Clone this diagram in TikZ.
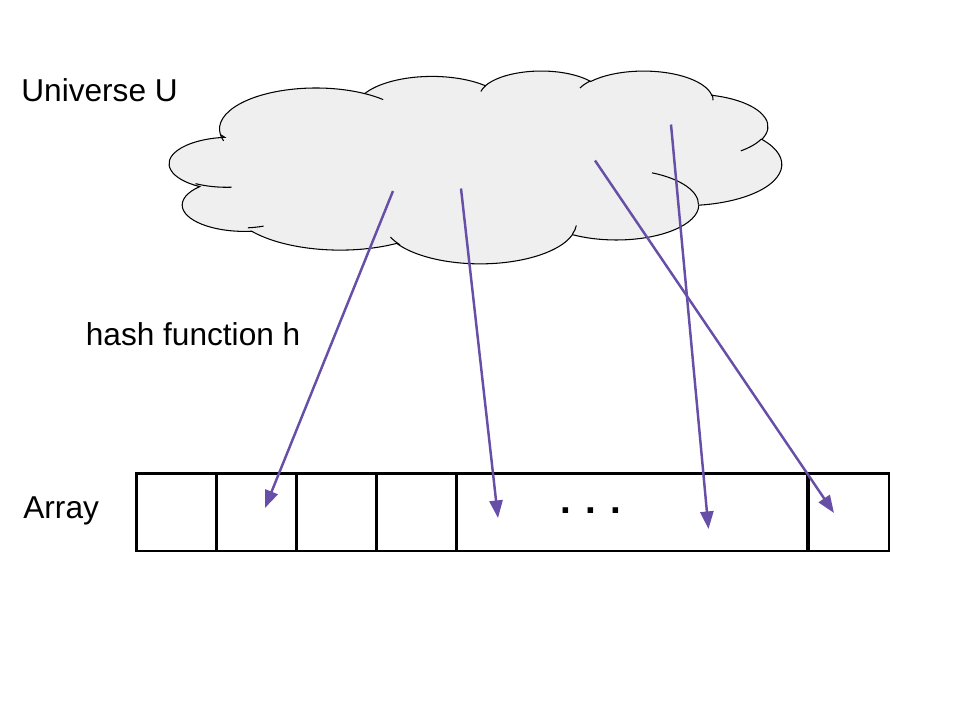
\documentclass[tikz,border=0pt]{standalone}
\usepackage{fontspec}
\setmainfont{Liberation Sans}
\usepackage{tikz}
\usetikzlibrary{arrows.meta}
\usepackage{xcolor}
\definecolor{cloudgray}{RGB}{239,239,239}
\definecolor{hashpurple}{RGB}{103,78,167}
% one bump of the cloud: x radius, y radius, start angle, sweep (angles as seen from the centre)
\newcommand{\lobe}[4]{arc[x radius=#1, y radius=#2,
  start angle={atan2((#1)*sin(#3),(#2)*cos(#3))},
  delta angle={mod(atan2((#1)*sin((#3)+(#4)),(#2)*cos((#3)+(#4)))-atan2((#1)*sin(#3),(#2)*cos(#3))+720,360)}]}

\begin{document}
\begin{tikzpicture}[x=0.02cm, y=-0.02cm,
    lbl/.style={anchor=base west, inner sep=0pt, font=\fontsize{18}{22}\selectfont},
    cell/.style={draw, line width=1.7pt, inner sep=0pt, minimum height=1.56cm},
    hash/.style={draw=hashpurple, line width=1.4pt, -{Triangle[length=10pt, width=7.5pt]}}]
        \useasboundingbox (0, 0) rectangle (960, 720);
        % Draw the cloud
        \begin{scope}[shift={(164.7, 70.4)}, x=0.028565cm, y=-0.0089306cm, line width=0.6pt]
            \draw [fill=cloudgray] (39.00, 143.70) \lobe{67.53}{91.90}{-190.487}{123.781}
                \lobe{53.33}{72.67}{-144.102}{89.945} \lobe{43.65}{59.45}{-145.808}{99.723}
                \lobe{48.57}{65.95}{-130.986}{117.242} \lobe{53.33}{72.73}{-78.709}{109.027}
                \lobe{67.75}{92.20}{-46.267}{130.269} \lobe{57.85}{78.67}{0.625}{114.033}
                \lobe{67.52}{92.15}{22.464}{119.150} \lobe{77.20}{105.43}{66.243}{68.197}
                \lobe{43.60}{59.18}{-274.942}{147.722} \lobe{43.45}{59.45}{-246.829}{152.519} -- cycle;
            % inner ends of the bumps
            \draw (46.93, 261.77) \lobe{43.45}{59.45}{86.742}{26.430}
                (69.28, 348.99) \lobe{43.60}{59.18}{73.610}{11.447}
                (164.78, 390.90) \lobe{67.52}{92.15}{137.624}{14.081}
                (288.27, 347.51) \lobe{67.52}{92.15}{6.453}{15.998}
                (341.29, 229.54) \lobe{57.85}{78.67}{-70.292}{70.917}
                (417.98, 153.54) \lobe{53.33}{72.73}{30.318}{27.752}
                (383.24, 54.26) \lobe{48.57}{65.95}{-13.744}{14.859}
                (290.78, 39.52) \lobe{48.57}{65.95}{-149.181}{18.195}
                (221.41, 47.20) \lobe{43.65}{59.45}{-163.494}{17.686}
                (140.00, 51.92) \lobe{67.53}{91.90}{-66.707}{12.319}
                (41.27, 157.89) \lobe{67.53}{91.90}{157.654}{11.858};
        \end{scope}
        % Labels
        \node [lbl] (universe) at (21, 101.7) {Universe U};
        \node [lbl] (hashfn) at (85.5, 345) {hash function h};
        \node [lbl] (array) at (23, 518) {Array};
        % Array cells
        \foreach \i/\x in {1/176, 2/256, 3/336, 4/416}
            \node [cell, minimum width=1.6cm] (c\i) at (\x, 512) {};
        \node [cell, minimum width=7.04cm] (c5) at (632, 512) {};
        \node [cell, minimum width=1.62cm] (c6) at (848.5, 512) {};
        \node [anchor=base, inner sep=0pt, font=\fontsize{22}{26}\selectfont\bfseries] (dots) at (591, 513) {. . .};
        % Keys in the universe and their slots
        \coordinate (k1) at (393, 191);
        \coordinate (k2) at (461, 188.5);
        \coordinate (k3) at (595, 160.5);
        \coordinate (k4) at (671, 124.5);
        \coordinate (h1) at (265, 508);
        \coordinate (h2) at (498, 518);
        \coordinate (h3) at (834, 513);
        \coordinate (h4) at (708.5, 529);
        % Lines
        \draw [hash] (k1) -- (h1);
        \draw [hash] (k2) -- (h2);
        \draw [hash] (k3) -- (h3);
        \draw [hash] (k4) -- (h4);
    \end{tikzpicture}
\end{document}
